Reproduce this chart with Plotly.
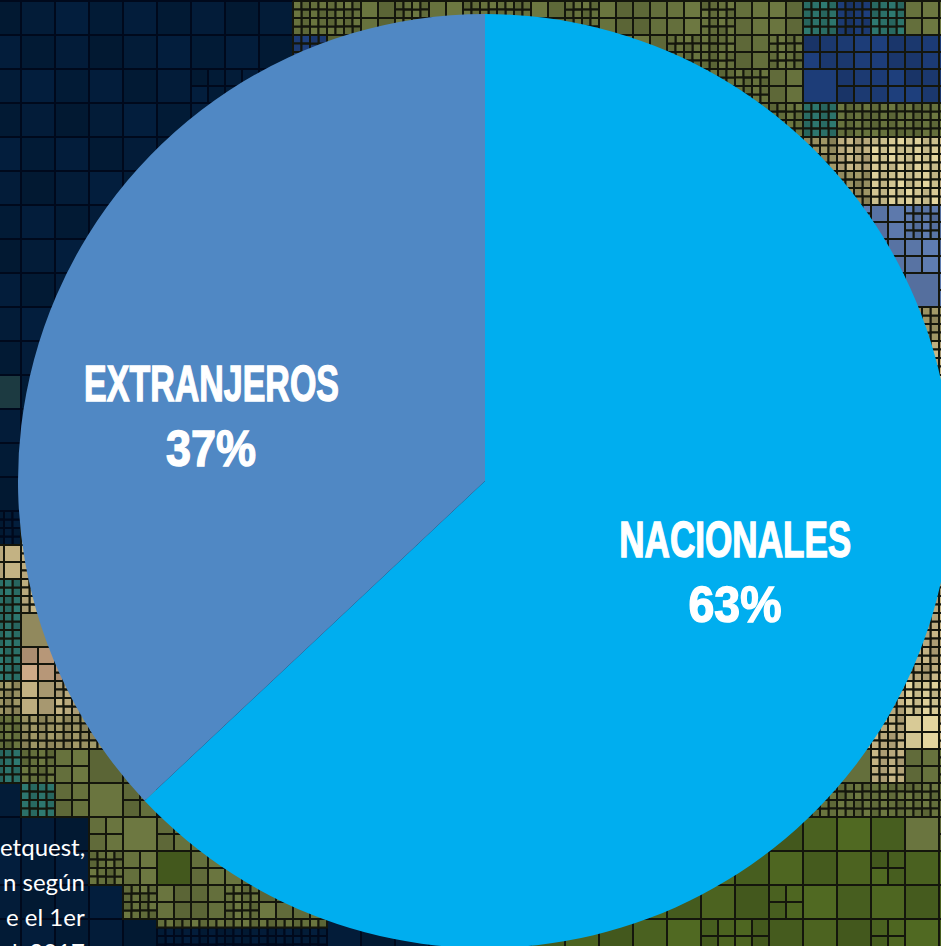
import plotly.graph_objects as go

# ---- chart data ----
categories = ["NACIONALES", "EXTRANJEROS"]
shares = [63, 37]
slice_colors = ["#00aeef", "#5088c4"]
pct_labels = ["63%", "37%"]
note_lines = ["etquest,", "n según", "e el 1er", "l, 2017"]

# ---- backdrop: mosaic map, one letter per 34 px block ----
palette = {
    "N": "#031c38", "E": "#1a363c", "B": "#1c3a72", "L": "#5873a3", "K": "#2b7068",
    "O": "#646f3c", "G": "#4a6120", "T": "#968e60", "S": "#b8a87c", "C": "#d2c592",
    "R": "#bd9c7c", "H": "#646f3c",
}
block_colors = [
    "NNNNNNNNNOOOOOOOOOOOOOOOKBKOO",
    "NNNNNNNNNBOOOOOOOOOOOOOOBBBBB",
    "NNNNNNNNNNNNNNNNOOOOOOOOBBBBB",
    "NNNNNNNNNNNNNNNNOOOOOOOOKOOOO",
    "NNNNNNNNNNNNNNNNOOOOOOOOTSCCS",
    "NNNNNNNNNNNNNNNNOOOOOOOOTTCCS",
    "NNNNNNNNNNNNNNNNOOOOOOOOOLLLL",
    "NNNNNNNNNNNNNNNNOOOOOOOOOLLLL",
    "NNNNNNNNNNNNNNNNOOOOOOOOOLLLL",
    "NNNNNNNNNNNNNNNNOOOOOOOOOOOTT",
    "NNNNNNNNNNNNNNNNOOOOOOOOOOOSS",
    "ENNNNNNNNNNNNNNNOOOOOOOOOOOSS",
    "NNNNNNNNNNNNNNNNOOOOOOOOOOOSS",
    "NNNNNNNNNNNNNNNNOOOOOOOOOOOSS",
    "NNNNNNNNNNNNNNNNOOOOOOOOOOOSS",
    "NSNNNNNNNNNNNNNNOOOOOOOOOOOSS",
    "SSNNNNNNNNNNNNNNOOOOOOOOOOOSS",
    "KSNNNNNNNNNNNNNNOOOOOOOOOOOSS",
    "KTNNNNNNNNNNNNNNOOOOOOOOOOOSS",
    "KRRNNNNNNNNNNNNNOOOOOOOOOOOSS",
    "TSSNNNNNNNNNNNNNOOOOOOOOOOSCS",
    "OTTTNNNNNNNNNNNNOOOOOOOOOSSCS",
    "KOOOONNNNNNNNNNNOOOOOOOOOOSOO",
    "NKOOONNNNNNNNNNNOOOOOOOOOOOOO",
    "NNNOOOONNNNNNNNNGGGGGGGGGGGOO",
    "NNNOOGOOOOOOOOOOGGGGGGGGGGGGG",
    "NNNNOOOOOOOOOOOOGGGGGGGGGGGGG",
    "NNNNNHHHHHNNNNNNGGGGGGGGGGGGG",
]
# 0: one tile, 1: 2x2 tiles, 2: 4x4 tiles
block_levels = [
    "0" * 9 + "2" + "212122121" + "11211" + "222" + "11",
    "0" * 9 + "2" + "111111111" + "12212" + "11111",
    "000000110000000000" + "111221" + "01111",
    "0" * 22 + "22" + "22222",
    "0" * 23 + "2" + "22222",
    "0" * 23 + "2" + "22222",
    "0" * 25 + "2121",
    "0" * 25 + "1111",
    "0" * 26 + "001",
    "0" * 27 + "22",
    "0" * 27 + "22",
    "0" * 27 + "22",
    "0" * 27 + "22",
    "0" * 27 + "22",
    "0" * 27 + "22",
    "22" + "0" * 25 + "22",
    "12" + "0" * 25 + "22",
    "22" + "0" * 25 + "22",
    "20" + "0" * 25 + "22",
    "212" + "0" * 24 + "22",
    "212" + "0" * 23 + "222",
    "2222" + "0" * 21 + "2212",
    "22102" + "0" * 21 + "212",
    "02101" + "0" * 18 + "222221",
    "00010110" + "0" * 19 + "01",
    "00021011" + "1" * 8 + "0" * 10 + "1" + "00",
    "00002112" + "11" + "0" * 6 + "0" * 7 + "1" + "00000",
    "00000" + "22222" + "0" * 11 + "11" + "0" * 3 + "1" + "00",
]

CELL = 34.0
X0, Y0 = -13.0, 1.0


def shade(hex_color, step):
    f = 1 + (step - 3) * 0.03
    vals = [int(hex_color[i:i + 2], 16) for i in (1, 3, 5)]
    return "#%02x%02x%02x" % tuple(min(255, int(v * f)) for v in vals)


groups = {}
for r, (colors, levels) in enumerate(zip(block_colors, block_levels)):
    levels = levels.ljust(29, "0")
    for c, letter in enumerate(colors[:29]):
        n = 2 ** int(levels[c])
        s = CELL / n
        for i in range(n):
            for j in range(n):
                use = letter
                if letter == "H" and i > 0:
                    use = "N"
                tone = (r * 5 + c * 3 + (i * 3 + j) * 2 + i * j) % 7
                key = (shade(palette[use], tone), "#00091c" if use in "NE" else "#14160c")
                xa, ya = X0 + c * CELL + j * s, Y0 + r * CELL + i * s
                pts = groups.setdefault(key, ([], []))
                pts[0].extend([xa, xa + s, xa + s, xa, xa, None])
                pts[1].extend([ya, ya, ya + s, ya + s, ya, None])

fig = go.Figure()
for (col, edge), (xs, ys) in groups.items():
    fig.add_trace(go.Scatter(x=xs, y=ys, mode="lines", fill="toself", fillcolor=col,
                             line=dict(color=edge, width=2), hoverinfo="skip", showlegend=False))

# ---- the pie ----
SIZE = 1000
cx, cy, rad = 485, 481, 467
fig.add_trace(go.Pie(
    labels=categories, values=shares, sort=False, direction="clockwise", rotation=0,
    marker=dict(colors=slice_colors, line=dict(width=0)), textinfo="none", hoverinfo="label+percent",
    showlegend=False,
    domain=dict(x=[(cx - rad) / SIZE, (cx + rad) / SIZE], y=[1 - (cy + rad) / SIZE, 1 - (cy - rad) / SIZE]),
))

label_font = dict(family="Liberation Sans Narrow, Liberation Sans", size=50, color="#ffffff", weight=700)
annos = []
for txt, x, y in [(categories[0], 735, 540), (pct_labels[0], 735, 605),
                  (categories[1], 211, 384), (pct_labels[1], 211, 449)]:
    annos.append(dict(x=x, y=y, xref="x", yref="y", text=txt, showarrow=False, font=label_font,
                      xanchor="center", yanchor="middle"))
for txt, y in zip(note_lines, [846, 881, 916, 951]):
    annos.append(dict(x=87, y=y, xref="x", yref="y", text=txt, showarrow=False,
                      font=dict(family="Lato", size=24, color="#ffffff"),
                      xanchor="right", yanchor="middle"))

fig.update_layout(
    width=SIZE, height=SIZE, margin=dict(l=0, r=0, t=0, b=0), autosize=False,
    paper_bgcolor="#031c38", plot_bgcolor="#031c38", annotations=annos,
    xaxis=dict(range=[0, SIZE], visible=False, fixedrange=True),
    yaxis=dict(range=[SIZE, 0], visible=False, fixedrange=True),
)

post = """
document.body.style.margin='0';
document.documentElement.style.overflow='hidden';
document.body.style.overflow='hidden';
var widths={'EXTRANJEROS':255,'NACIONALES':232,'37%':90,'63%':93};
document.querySelectorAll('.annotation-text').forEach(function(t){
  var w=widths[t.textContent];
  if(w){t.setAttribute('textLength',w);t.setAttribute('lengthAdjust','spacingAndGlyphs');
        t.style.stroke='#ffffff';t.style.strokeWidth='1.4px';}
});
"""
fig.write_html("out.html", post_script=post, config=dict(displayModeBar=False))
